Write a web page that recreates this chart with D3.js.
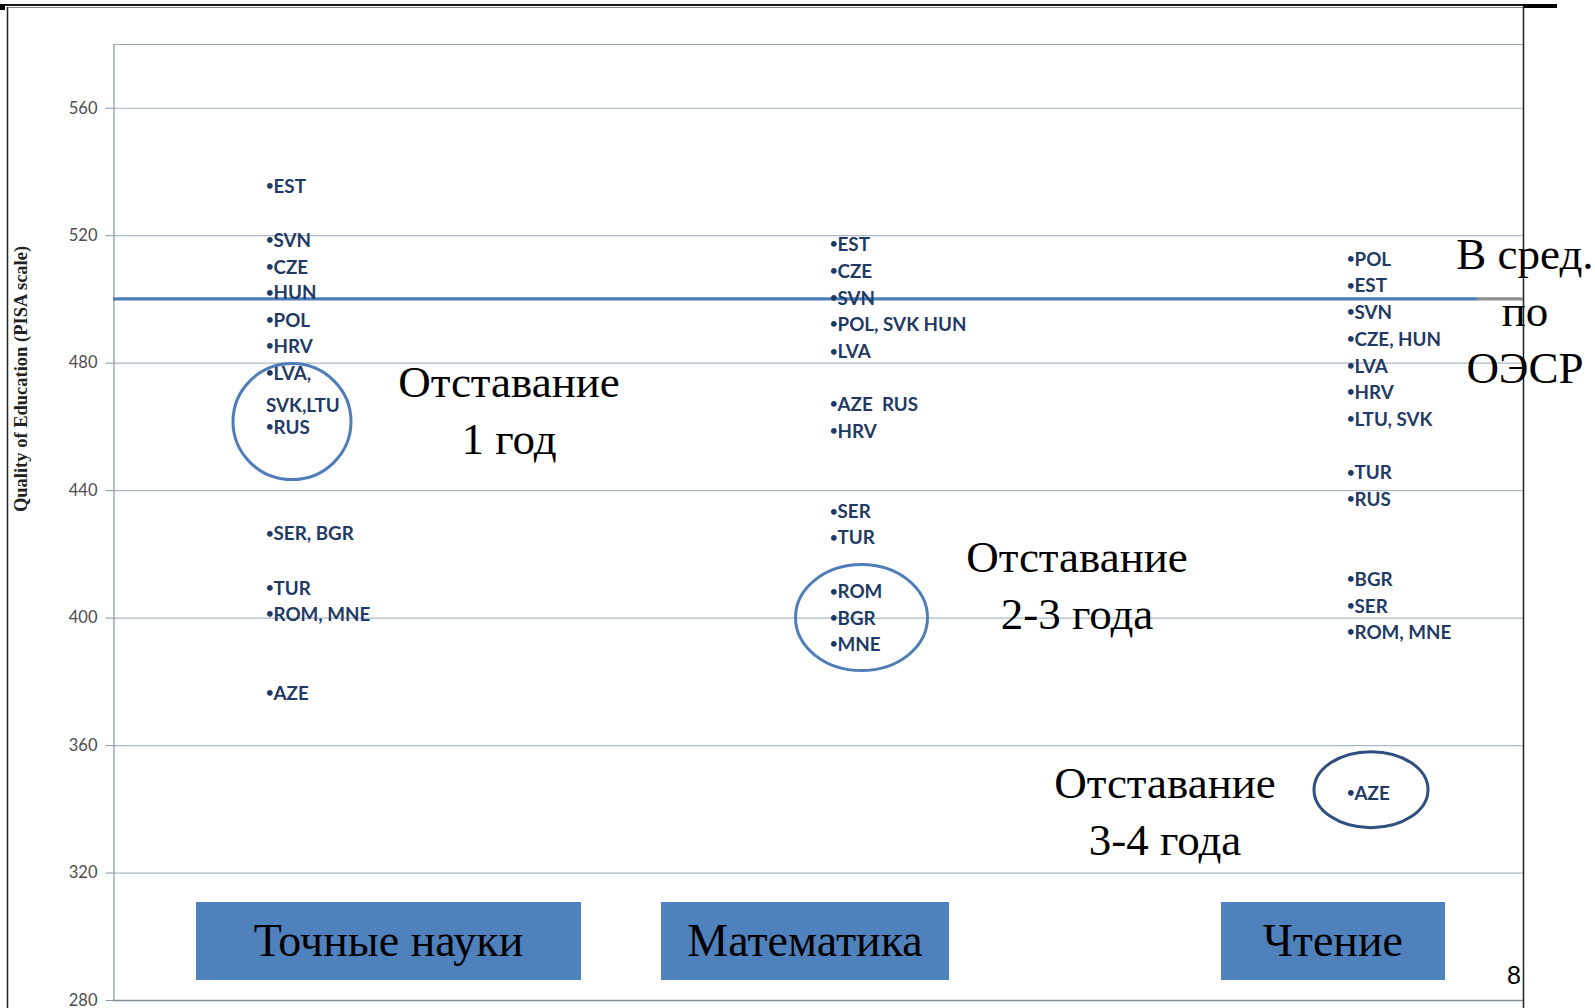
<!DOCTYPE html>
<html>
<head>
<meta charset="utf-8">
<script src="https://cdn.jsdelivr.net/npm/d3@7"></script>
<style>
  html, body { margin: 0; padding: 0; background: #ffffff; }
  svg { display: block; }
</style>
</head>
<body>
<script>
// ---------------- DATA ----------------
const categories = ["Точные науки", "Математика", "Чтение"];
const yTicks = [280, 320, 360, 400, 440, 480, 520, 560];
const oecdAverage = 500;

const scienceLabels = ["EST", "SVN", "CZE", "HUN", "POL", "HRV", "LVA,", "SVK,LTU", "RUS", "SER, BGR", "TUR", "ROM, MNE", "AZE"];
const scienceValues = [535.5, 518.6, 510.0, 502.0, 493.4, 485.1, 476.8, 468.4, 459.9, 426.4, 409.4, 401.1, 376.2];

const mathLabels = ["EST", "CZE", "SVN", "POL, SVK HUN", "LVA", "AZE  RUS", "HRV", "SER", "TUR", "ROM", "BGR", "MNE"];
const mathValues = [517.3, 508.7, 500.4, 492.1, 483.5, 466.9, 458.6, 433.3, 425.1, 408.2, 399.8, 391.6];

const readingLabels = ["POL", "EST", "SVN", "CZE, HUN", "LVA", "HRV", "LTU, SVK", "TUR", "RUS", "BGR", "SER", "ROM, MNE", "AZE"];
const readingValues = [512.5, 504.2, 495.9, 487.3, 479.0, 470.7, 462.4, 445.5, 437.2, 412.0, 403.7, 395.4, 345.0];

// highlighted groups: [category, centre value, annotation lines]
const groupCategories = ["Точные науки", "Математика", "Чтение"];
const groupCenters = [461.5, 400.0, 346.0];
const groupNotes = [["Отставание", "1 год"], ["Отставание", "2-3 года"], ["Отставание", "3-4 года"]];
const oecdNote = ["В сред.", "по", "ОЭСР"];
const yAxisTitle = "Quality of Education (PISA scale)";
const pageNumber = "8";

// ---------------- LAYOUT ----------------
const W = 1595, H = 1008;
const plot = { left: 113, top: 44, right: 1523, bottom: 1000 };

const svg = d3.select("body").append("svg").attr("width", W).attr("height", H);

const y = d3.scaleLinear().domain([280, 580]).range([plot.bottom, plot.top]);
// column anchor (label bullets) per category
const xLabel = d3.scaleOrdinal().domain(categories).range([266, 830, 1347]);
// category box centres
const xBox = d3.scaleOrdinal().domain(categories).range([388.5, 805, 1333]);
const boxWidth = d3.scaleOrdinal().domain(categories).range([385, 288, 224]);
// ellipse geometry
const ellipseX = d3.scaleOrdinal().domain(groupCategories).range([292, 861.5, 1371]);
const ellipseR = d3.scaleOrdinal().domain(groupCategories).range([[59, 58], [66, 53], [57, 38]]);
const ellipseColor = d3.scaleOrdinal().domain(groupCategories).range(["#4f7db8", "#4f7db8", "#2f4f7f"]);
const noteX = d3.scaleOrdinal().domain(groupCategories).range([509, 1077, 1165]);
const noteValue = d3.scaleOrdinal().domain(groupCategories).range([469.2, 414.3, 343.5]);

// ---------------- FRAME ----------------
svg.append("rect").attr("x", 0).attr("y", 4).attr("width", 1557).attr("height", 2).attr("fill", "#1a1a1a");
svg.append("rect").attr("x", 1523).attr("y", 4).attr("width", 34).attr("height", 4).attr("fill", "#000");
svg.append("rect").attr("x", 0).attr("y", 4).attr("width", 5).attr("height", 6).attr("fill", "#000");
svg.append("line").attr("x1", 7).attr("x2", 1523).attr("y1", 7.5).attr("y2", 7.5).attr("stroke", "#888").attr("stroke-width", 1);
svg.append("line").attr("x1", 7.5).attr("x2", 7.5).attr("y1", 7).attr("y2", H).attr("stroke", "#222").attr("stroke-width", 1.5);

// ---------------- GRID ----------------
svg.append("g").selectAll("line").data(yTicks).join("line")
  .attr("x1", plot.left).attr("x2", plot.right)
  .attr("y1", d => y(d) + 0.5).attr("y2", d => y(d) + 0.5)
  .attr("stroke", "#a9bac6").attr("stroke-width", 1.2);

// plot area top border
svg.append("line").attr("x1", plot.left).attr("x2", plot.right)
  .attr("y1", plot.top + 0.5).attr("y2", plot.top + 0.5)
  .attr("stroke", "#98aab8").attr("stroke-width", 1.2);
// bottom axis line
svg.append("line").attr("x1", plot.left).attr("x2", plot.right)
  .attr("y1", plot.bottom + 0.5).attr("y2", plot.bottom + 0.5)
  .attr("stroke", "#7f8f9c").attr("stroke-width", 1.5);

// ---------------- Y AXIS ----------------
const axis = svg.append("g").attr("transform", `translate(${plot.left + 0.5},0)`)
  .call(d3.axisLeft(y).tickValues(yTicks).tickSize(8).tickSizeOuter(0).tickPadding(8));
axis.select(".domain").attr("stroke", "#8797a4").attr("stroke-width", 1.2);
axis.selectAll(".tick line").attr("stroke", "#8797a4");
axis.selectAll(".tick text").attr("fill", "#4d4d4d")
  .style("font-family", "Lato, 'Open Sans', sans-serif").style("font-size", "16.5px");

svg.append("text")
  .attr("transform", `translate(27, 379) rotate(-90)`)
  .attr("text-anchor", "middle")
  .style("font-family", "'Liberation Serif', 'Times New Roman', serif")
  .style("font-weight", "bold").style("font-size", "18.5px").attr("fill", "#222")
  .text(yAxisTitle);

// right frame edge
svg.append("line").attr("x1", plot.right + 0.5).attr("x2", plot.right + 0.5)
  .attr("y1", 7).attr("y2", H).attr("stroke", "#222").attr("stroke-width", 1.5);

// ---------------- OECD LINE ----------------
svg.append("line").attr("x1", plot.left).attr("x2", 1477)
  .attr("y1", y(oecdAverage)).attr("y2", y(oecdAverage))
  .attr("stroke", "#4a7ebb").attr("stroke-width", 3.2);
svg.append("line").attr("x1", 1477).attr("x2", plot.right)
  .attr("y1", y(oecdAverage)).attr("y2", y(oecdAverage))
  .attr("stroke", "#8c8c8c").attr("stroke-width", 3.2);

// ---------------- COUNTRY LABELS ----------------
const series = [
  { cat: categories[0], labels: scienceLabels, values: scienceValues },
  { cat: categories[1], labels: mathLabels, values: mathValues },
  { cat: categories[2], labels: readingLabels, values: readingValues }
];
const labelFont = "Lato, 'Open Sans', sans-serif";
series.forEach(s => {
  const g = svg.append("g");
  const items = s.labels.map((t, i) => ({ t, v: s.values[i], cont: t === "SVK,LTU" }));
  g.selectAll("text").data(items).join("text")
    .attr("x", xLabel(s.cat))
    .attr("y", d => y(d.v) + 6)
    .attr("dy", "0.36em")
    .attr("fill", "#1f3a63")
    .style("font-family", labelFont)
    .style("font-weight", "bold")
    .style("font-size", "18.8px")
    .style("white-space", "pre")
    .each(function(d) {
      const el = d3.select(this);
      if (!d.cont) {
        el.append("tspan").text("•").style("font-size", "13px").attr("dy", "-0.15em");
        el.append("tspan").text(d.t).attr("dy", "0.15em");
      } else {
        el.text(d.t);
      }
    });
});

// ---------------- ELLIPSES ----------------
svg.append("g").selectAll("ellipse").data(groupCategories).join("ellipse")
  .attr("cx", d => ellipseX(d))
  .attr("cy", (d, i) => y(groupCenters[i]))
  .attr("rx", d => ellipseR(d)[0])
  .attr("ry", d => ellipseR(d)[1])
  .attr("fill", "none")
  .attr("stroke", d => ellipseColor(d))
  .attr("stroke-width", 3);

// ---------------- ANNOTATIONS ----------------
const serif = "'Liberation Serif', 'Times New Roman', serif";
groupCategories.forEach((c, i) => {
  const t = svg.append("text")
    .attr("text-anchor", "middle")
    .style("font-family", serif).style("font-size", "45px").attr("fill", "#000");
  groupNotes[i].forEach((line, k) => {
    t.append("tspan").attr("x", noteX(c)).attr("y", y(noteValue(c)) + k * 57).text(line);
  });
});

const oecdT = svg.append("text").attr("text-anchor", "middle")
  .style("font-family", serif).style("font-size", "45px").attr("fill", "#000");
oecdNote.forEach((line, k) => {
  oecdT.append("tspan").attr("x", 1525).attr("y", y(oecdAverage) - 30 + k * 57).text(line);
});

// ---------------- CATEGORY BOXES ----------------
const boxes = svg.append("g").selectAll("g").data(categories).join("g");
boxes.append("rect")
  .attr("x", d => xBox(d) - boxWidth(d) / 2)
  .attr("y", 902)
  .attr("width", d => boxWidth(d))
  .attr("height", 78)
  .attr("fill", "#4f81bd");
boxes.append("text")
  .attr("x", d => xBox(d)).attr("y", 940).attr("dy", "0.35em")
  .attr("text-anchor", "middle")
  .style("font-family", serif).style("font-size", "46px").attr("fill", "#000")
  .text(d => d);

// page number
svg.append("text").attr("x", 1521).attr("y", 984).attr("text-anchor", "end")
  .style("font-family", "'Liberation Sans', Arial, sans-serif").style("font-size", "25px").attr("fill", "#000")
  .text(pageNumber);
</script>
</body>
</html>
